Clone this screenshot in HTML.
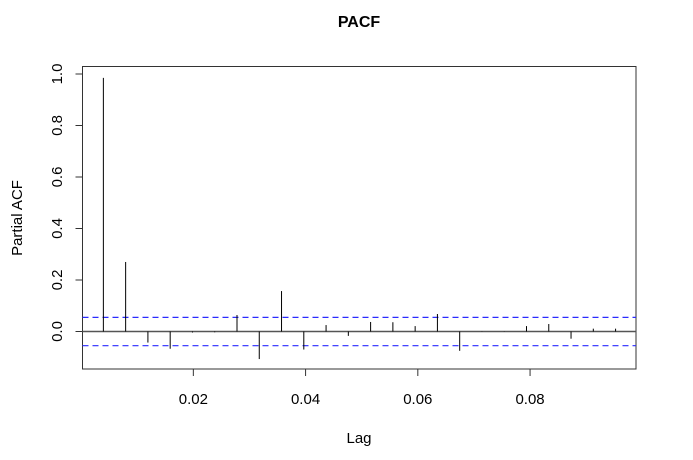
<!DOCTYPE html>
<html><head><meta charset="utf-8"><style>
html,body{margin:0;padding:0;background:#fff;}
svg{display:block;font-family:"Liberation Sans",Arial,sans-serif;}
</style></head><body>
<svg id="chart" width="693" height="460" viewBox="0 0 693 460">
<text x="359" y="27" text-anchor="middle" font-size="16" font-weight="bold">PACF</text>
<rect x="82.5" y="66.5" width="553.5" height="302.5" fill="none" stroke="#333" stroke-width="1"/>
<g id="xaxis"></g>
<g id="yaxis"></g>
<g id="marks"></g>
<text x="359" y="443" text-anchor="middle" font-size="15">Lag</text>
<text transform="translate(22,218) rotate(-90)" text-anchor="middle" font-size="15">Partial ACF</text>
</svg>
<script>
const lags = [1,2,3,4,5,6,7,8,9,10,11,12,13,14,15,16,17,18,19,20,21,22,23,24].map(k=>k/252);
const pacfValues = [0.985,0.27,-0.043,-0.067,-0.004,-0.003,0.064,-0.107,0.157,-0.07,0.025,-0.017,0.037,0.036,0.021,0.068,-0.075,0.001,0.001,0.021,0.029,-0.028,0.011,0.011];
const xTicks = [0.02,0.04,0.06,0.08];
const xTickLabels = ["0.02","0.04","0.06","0.08"];
const yTicks = [0,0.2,0.4,0.6,0.8,1.0];
const yTickLabels = ["0.0","0.2","0.4","0.6","0.8","1.0"];
const ciBound = [0.055,-0.055];

const NS="http://www.w3.org/2000/svg";
function xs(v){return 81.1+5612*v;}
function ys(v){return 331.5-257.5*v;}
function mk(tag,attrs,parent){const e=document.createElementNS(NS,tag);for(const k in attrs)e.setAttribute(k,attrs[k]);parent.appendChild(e);return e;}
const gx=document.getElementById('xaxis'),gy=document.getElementById('yaxis'),gm=document.getElementById('marks');
xTicks.forEach((t,i)=>{
  const l=mk('line',{x1:xs(t),x2:xs(t),y1:369,y2:376,stroke:'#333'},gx);
  
  
  const tx=mk('text',{x:xs(t),y:404,'text-anchor':'middle','font-size':15},gx);
  tx.textContent=xTickLabels[i];
  
  
});
yTicks.forEach((t,i)=>{
  const l=mk('line',{x1:75.5,x2:82.5,y1:ys(t),y2:ys(t),stroke:'#333'},gy);
  
  
  const tx=mk('text',{'text-anchor':'middle','font-size':15,transform:`translate(62,${ys(t)}) rotate(-90)`},gy);
  tx.textContent=yTickLabels[i];
  
  
});
const zl=mk('line',{x1:82.5,x2:636,y1:ys(0),y2:ys(0),stroke:'#555','stroke-width':1.5},gm);


ciBound.forEach(b=>{
  const l=mk('line',{x1:82.5,x2:636,y1:ys(b),y2:ys(b),stroke:'#2a2aff','stroke-width':1.2,'stroke-dasharray':'6,4'},gm);
  
  
});
lags.forEach((lag,i)=>{
  const l=mk('line',{x1:xs(lag),x2:xs(lag),y1:ys(0),y2:ys(pacfValues[i]),stroke:'#000','stroke-width':1},gm);
  
  
});
</script>
</body></html>
